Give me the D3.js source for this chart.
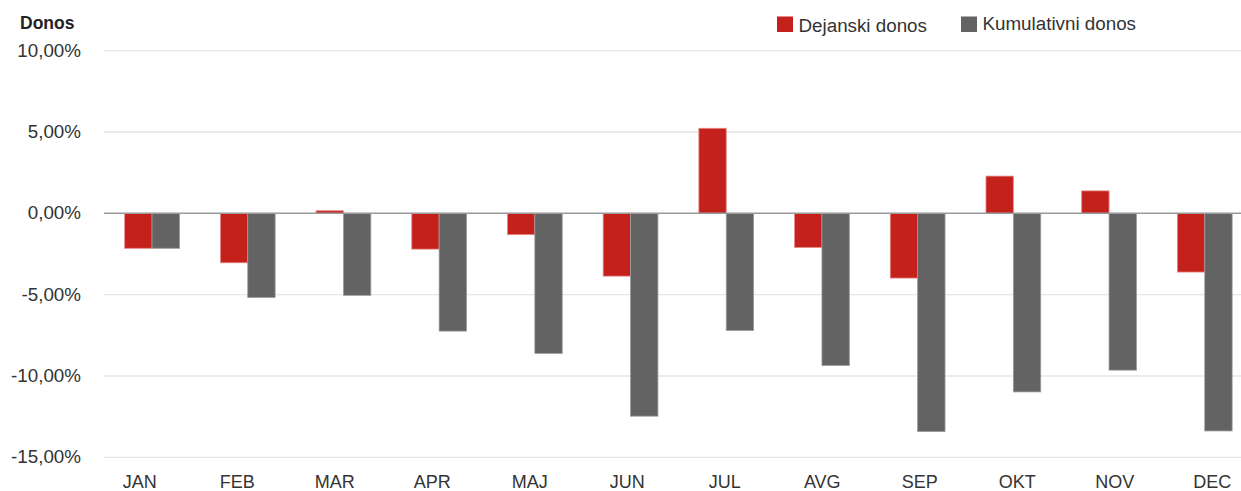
<!DOCTYPE html>
<html lang="sl">
<head>
<meta charset="UTF-8">
<title>Donos</title>
<script src="https://cdn.jsdelivr.net/npm/d3@7"></script>
<style>
  body { margin: 0; background: #fff; }
  svg { display: block; font-family: "Liberation Sans", Arial, Helvetica, sans-serif; }
</style>
</head>
<body>
<svg id="chart" width="1241" height="491"></svg>
<script>
// data (percent)
var months = ["JAN", "FEB", "MAR", "APR", "MAJ", "JUN", "JUL", "AVG", "SEP", "OKT", "NOV", "DEC"];
var dejanski = [-2.15, -3.04, 0.16, -2.2, -1.31, -3.86, 5.23, -2.1, -3.98, 2.29, 1.38, -3.61];
var kumulativni = [-2.15, -5.17, -5.04, -7.24, -8.61, -12.47, -7.2, -9.35, -13.42, -10.98, -9.64, -13.38];
var yTicks = [10, 5, 0, -5, -10, -15];
var seriesNames = ["Dejanski donos", "Kumulativni donos"];
var seriesColors = ["#c5211c", "#636364"];
var seriesStrokes = ["#e58a86", "#9a9a9a"];

var svg = d3.select("#chart");

var y = d3.scaleLinear().domain([-15, 10]).range([457.3, 50.7]);

// bars use their own band scale, labels a slightly wider one
var x0 = d3.scaleBand().domain(months).range([104.2, 1252.6])
    .paddingInner(0.428).paddingOuter(0.214);
var x1 = d3.scaleBand().domain([0, 1]).range([0, x0.bandwidth()]);
var xLabels = d3.scaleBand().domain(months).range([91, 1261]);

var loc = d3.formatLocale({ decimal: ",", thousands: ".", grouping: [3], currency: ["", "€"], minus: "-" });
var fmt = loc.format(".2f");

// gridlines
svg.append("g").selectAll("line")
    .data(yTicks.filter(function (d) { return d !== 0; }))
    .enter().append("line")
    .attr("x1", 104).attr("x2", 1241)
    .attr("y1", function (d) { return y(d); })
    .attr("y2", function (d) { return y(d); })
    .attr("stroke", "#e6e6e6")
    .attr("stroke-width", 1.3);

// y axis labels
var yAxis = svg.append("g")
    .attr("transform", "translate(81,0)")
    .call(d3.axisLeft(y).tickValues(yTicks).tickSize(0).tickPadding(0)
        .tickFormat(function (d) { return fmt(d) + "%"; }));
yAxis.select(".domain").remove();
yAxis.selectAll("text")
    .attr("font-family", null)
    .attr("dy", "0.3em")
    .style("font-size", "18.8px")
    .style("fill", "#333");

// bars
var groups = svg.append("g").selectAll("g")
    .data(months)
    .enter().append("g")
    .attr("transform", function (d) { return "translate(" + x0(d) + ",0)"; });

groups.selectAll("rect")
    .data(function (d, i) { return [dejanski[i], kumulativni[i]]; })
    .enter().append("rect")
    .attr("x", function (d, j) { return x1(j); })
    .attr("width", x1.bandwidth())
    .attr("y", function (d) { return y(Math.max(0, d)); })
    .attr("height", function (d) { return Math.abs(y(d) - y(0)); })
    .attr("fill", function (d, j) { return seriesColors[j]; })
    .attr("stroke", function (d, j) { return seriesStrokes[j]; })
    .attr("stroke-width", 0.8);

// zero line
svg.append("line")
    .attr("x1", 104).attr("x2", 1241)
    .attr("y1", y(0)).attr("y2", y(0))
    .attr("stroke", "#9a9a9a")
    .attr("stroke-width", 1.5);

// x axis labels
var xAxis = svg.append("g")
    .attr("transform", "translate(0,487.5)")
    .call(d3.axisBottom(xLabels).tickSize(0).tickPadding(0));
xAxis.select(".domain").remove();
xAxis.selectAll("text")
    .attr("font-family", null)
    .attr("dy", 0)
    .style("font-size", "18px")
    .style("fill", "#333");

// title
svg.append("text")
    .attr("x", 20).attr("y", 29)
    .attr("font-size", "17.5px")
    .attr("font-weight", "bold")
    .attr("fill", "#222")
    .text("Donos");

// legend
var legendX = [777, 961];
var legendTextY = [32, 29.5];
var legend = svg.append("g").selectAll("g")
    .data(seriesNames)
    .enter().append("g");
legend.append("rect")
    .attr("x", function (d, i) { return legendX[i]; })
    .attr("y", 16.5)
    .attr("width", 16).attr("height", 15.5)
    .attr("fill", function (d, i) { return seriesColors[i]; });
legend.append("text")
    .attr("x", function (d, i) { return legendX[i] + 21.5; })
    .attr("y", function (d, i) { return legendTextY[i]; })
    .attr("font-size", "18.8px")
    .attr("fill", "#333")
    .text(function (d) { return d; });
</script>
</body>
</html>
